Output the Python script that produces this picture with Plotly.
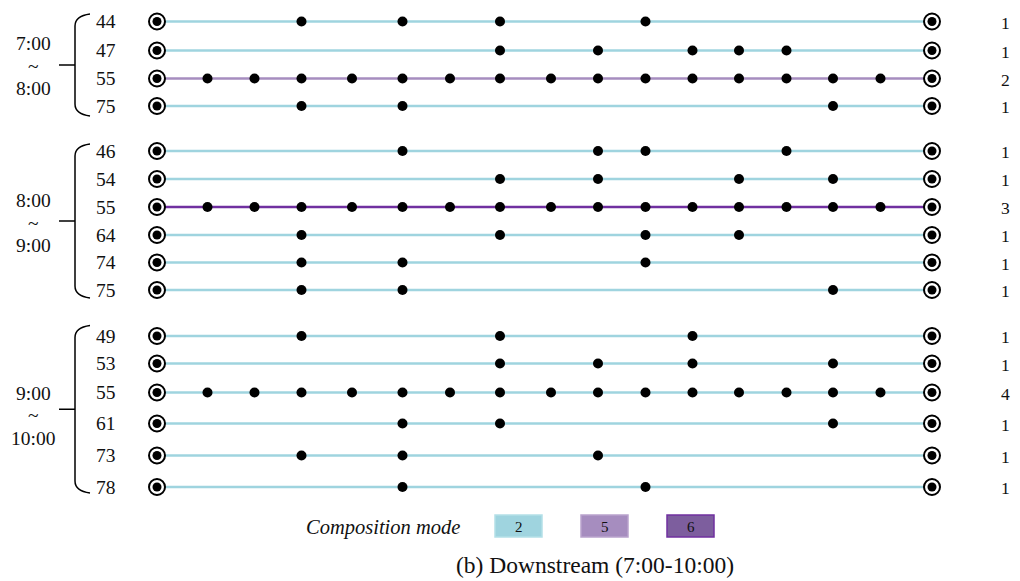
import plotly.graph_objects as go

# ---------------- data ----------------
group_start = ["7:00", "8:00", "9:00"]
group_end = ["8:00", "9:00", "10:00"]
row_ids = [44, 47, 55, 75, 46, 54, 55, 64, 74, 75, 49, 53, 55, 61, 73, 78]
row_group = [0, 0, 0, 0, 1, 1, 1, 1, 1, 1, 2, 2, 2, 2, 2, 2]
row_mode = [2, 2, 5, 2, 2, 2, 6, 2, 2, 2, 2, 2, 2, 2, 2, 2]
row_count = [1, 1, 2, 1, 1, 1, 3, 1, 1, 1, 1, 1, 4, 1, 1, 1]
# stop mileage along the corridor (first = origin, last = terminal)
stop_pos = [0, 50.5, 97.5, 144.5, 195, 245.5, 293, 343, 394, 441, 488.5,
            535.5, 582, 629.5, 676, 723.5, 775]
all_mid = list(range(1, 16))
row_stops = [
    [3, 5, 7, 10],
    [7, 9, 11, 12, 13],
    all_mid,
    [3, 5, 14],
    [5, 9, 10, 13],
    [7, 9, 12, 14],
    all_mid,
    [3, 7, 10, 12],
    [3, 5, 10],
    [3, 5, 14],
    [3, 7, 11],
    [7, 9, 11, 14],
    all_mid,
    [5, 7, 14],
    [3, 5, 9],
    [5, 10],
]
legend_modes = [2, 5, 6]

# ---------------- styles / layout ----------------
mode_line = {2: "#9fd4df", 5: "#a68dbf", 6: "#7030a0"}
mode_fill = {2: "#9fd4df", 5: "#a68dbf", 6: "#7d5e9e"}
mode_border = {2: "#b4e0e8", 5: "#b9a3cd", 6: "#7030a0"}
row_y = [21.5, 50.5, 78.5, 106, 151, 179, 207, 235, 262.5, 290,
         336, 363.5, 392.5, 423.5, 455.5, 487]
group_span = [(14, 116), (144, 298), (325.5, 493)]
group_text_y = [(43, 66, 88), (200, 223, 245), (393, 415, 438)]
FONT = "Liberation Serif, Times New Roman, serif"
TXT = "#111111"

fig = go.Figure()

# route lines
for i, rid in enumerate(row_ids):
    fig.add_trace(go.Scatter(
        x=[stop_pos[0], stop_pos[-1]], y=[row_y[i], row_y[i]], mode="lines",
        line=dict(color=mode_line[row_mode[i]], width=2.5),
        hoverinfo="skip", showlegend=False))

# intermediate stops
dx, dy = [], []
for i, stops in enumerate(row_stops):
    for s in stops:
        dx.append(stop_pos[s])
        dy.append(row_y[i])
fig.add_trace(go.Scatter(x=dx, y=dy, mode="markers",
                         marker=dict(color="black", size=10),
                         showlegend=False, hoverinfo="skip"))

# terminals
tx, ty = [], []
for i in range(len(row_ids)):
    tx += [stop_pos[0], stop_pos[-1]]
    ty += [row_y[i], row_y[i]]
fig.add_trace(go.Scatter(x=tx, y=ty, mode="markers",
                         marker=dict(color="white", size=16, symbol="circle",
                                     line=dict(color="black", width=2)),
                         showlegend=False, hoverinfo="skip"))
fig.add_trace(go.Scatter(x=tx, y=ty, mode="markers",
                         marker=dict(color="black", size=9),
                         showlegend=False, hoverinfo="skip"))

OX = 157  # pixel of stop_pos 0 (axis offset)
shapes = []
ann = []

def px(x):
    return x - OX

# row labels and counts
for i, rid in enumerate(row_ids):
    ann.append(dict(x=px(106), y=row_y[i], text=str(rid), showarrow=False,
                    font=dict(family=FONT, size=19.5, color=TXT),
                    xanchor="center", yanchor="middle"))
    ann.append(dict(x=px(1005), y=row_y[i] + 1, text=str(row_count[i]), showarrow=False,
                    font=dict(family=FONT, size=17.5, color=TXT),
                    xanchor="center", yanchor="middle"))

# brackets and group labels
for g, (y0, y1) in enumerate(group_span):
    ym = (y0 + y1) / 2
    path = (f"M {px(90)},{y0} Q {px(75)},{y0+2} {px(75)},{y0+12} "
            f"L {px(75)},{y1-12} Q {px(75)},{y1-2} {px(90)},{y1}")
    shapes.append(dict(type="path", path=path, xref="x", yref="y",
                       line=dict(color="black", width=1.5)))
    shapes.append(dict(type="line", x0=px(59), x1=px(75), y0=ym, y1=ym,
                       xref="x", yref="y", line=dict(color="black", width=1.5)))
    ya, yt, yb = group_text_y[g]
    for txt, yy in ((group_start[g], ya), ("~", yt), (group_end[g], yb)):
        ann.append(dict(x=px(33), y=yy, text=txt, showarrow=False,
                        font=dict(family=FONT, size=19.5, color=TXT),
                        xanchor="center", yanchor="middle"))

# legend
ann.append(dict(x=px(383), y=527, text="<i>Composition mode</i>", showarrow=False,
                font=dict(family=FONT, size=20.5, color=TXT),
                xanchor="center", yanchor="middle"))
box_x = [495, 581, 667]
for k, m in enumerate(legend_modes):
    x0 = box_x[k]
    shapes.append(dict(type="rect", x0=px(x0), x1=px(x0 + 47), y0=515, y1=537,
                       xref="x", yref="y", fillcolor=mode_fill[m],
                       line=dict(color=mode_border[m], width=1.5)))
    ann.append(dict(x=px(x0 + 23.5), y=526.5, text=str(m), showarrow=False,
                    font=dict(family=FONT, size=15, color=TXT),
                    xanchor="center", yanchor="middle"))

ann.append(dict(x=px(595), y=565, text="(b) Downstream (7:00-10:00)", showarrow=False,
                font=dict(family=FONT, size=23.5, color=TXT),
                xanchor="center", yanchor="middle"))

fig.update_layout(
    width=1020, height=581,
    margin=dict(l=0, r=0, t=0, b=0),
    paper_bgcolor="white", plot_bgcolor="white",
    xaxis=dict(range=[-OX, 1020 - OX], visible=False, fixedrange=True),
    yaxis=dict(range=[581, 0], visible=False, fixedrange=True),
    shapes=shapes, annotations=ann, showlegend=False,
)

fig.write_html("out.html")
